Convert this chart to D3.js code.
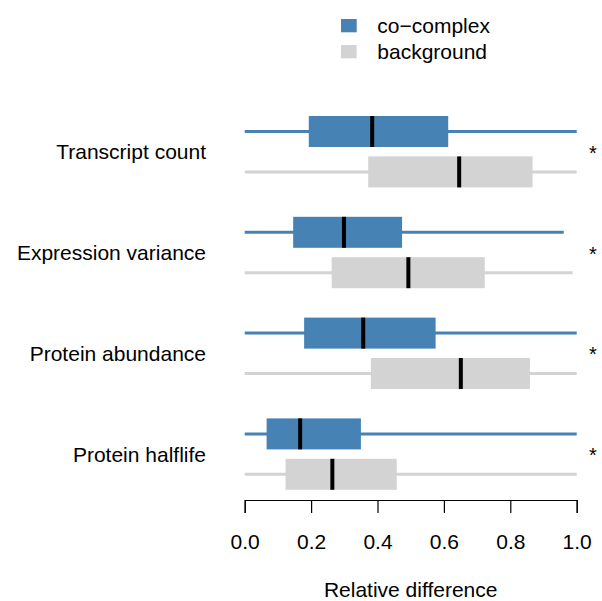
<!DOCTYPE html>
<html>
<head>
<meta charset="utf-8">
<script src="https://cdn.jsdelivr.net/npm/d3@7"></script>
<style>
  body { margin: 0; background: #fff; }
  text { font-family: "Liberation Sans", Arial, Helvetica, sans-serif; }
</style>
</head>
<body>
<div id="main"></div>
<script>
// data
var categories = ["Transcript count", "Expression variance", "Protein abundance", "Protein halflife"];
var series = ["co\u2212complex", "background"];
var seriesColors = ["#4682B4", "#D3D3D3"];

var coMin    = [0, 0, 0, 0];
var coQ1     = [0.193, 0.146, 0.179, 0.066];
var coMedian = [0.384, 0.299, 0.357, 0.167];
var coQ3     = [0.613, 0.474, 0.575, 0.350];
var coMax    = [1.0, 0.961, 1.0, 1.0];

var bgMin    = [0, 0, 0, 0];
var bgQ1     = [0.372, 0.262, 0.380, 0.123];
var bgMedian = [0.646, 0.493, 0.651, 0.264];
var bgQ3     = [0.867, 0.723, 0.859, 0.458];
var bgMax    = [1.0, 0.988, 1.0, 1.0];

var signif = ["*", "*", "*", "*"];
var xTicks = [0, 0.2, 0.4, 0.6, 0.8, 1.0];
var xTitle = "Relative difference";

var ctx = {
    w: 602,
    h: 601,
    left: 244.7,
    right: 576.7,
    top: 101.3,
    bottom: 504.5,
    axisY: 500,
    boxH: 31,
    offset: 20.2,
    fontSize: 21,
};

var createChart = function(svg){
    var x = d3.scaleLinear().domain([0, 1]).range([ctx.left, ctx.right]);
    var y = d3.scaleBand().domain(categories).range([ctx.top, ctx.bottom]);
    var sub = d3.scalePoint().domain(series).range([-ctx.offset, ctx.offset]);

    // build one row per box
    var boxes = [];
    categories.forEach(function(c, i){
        boxes.push({cat: c, s: series[0], color: seriesColors[0],
                    min: coMin[i], q1: coQ1[i], med: coMedian[i], q3: coQ3[i], max: coMax[i]});
        boxes.push({cat: c, s: series[1], color: seriesColors[1],
                    min: bgMin[i], q1: bgQ1[i], med: bgMedian[i], q3: bgQ3[i], max: bgMax[i]});
    });
    var cy = function(d){ return y(d.cat) + y.bandwidth() / 2 + sub(d.s); };

    var g = svg.selectAll("g.box")
               .data(boxes)
               .enter().append("g")
               .classed("box", true);

    // whiskers (no staples)
    g.append("line")
     .attr("x1", function(d){ return x(d.min); })
     .attr("x2", function(d){ return x(d.max); })
     .attr("y1", cy)
     .attr("y2", cy)
     .style("stroke", function(d){ return d.color; })
     .style("stroke-width", 3);

    g.append("rect")
     .attr("x", function(d){ return x(d.q1); })
     .attr("y", function(d){ return cy(d) - ctx.boxH / 2; })
     .attr("width", function(d){ return x(d.q3) - x(d.q1); })
     .attr("height", ctx.boxH)
     .style("fill", function(d){ return d.color; });

    // median
    g.append("line")
     .attr("x1", function(d){ return x(d.med); })
     .attr("x2", function(d){ return x(d.med); })
     .attr("y1", function(d){ return cy(d) - ctx.boxH / 2; })
     .attr("y2", function(d){ return cy(d) + ctx.boxH / 2; })
     .style("stroke", "#000")
     .style("stroke-width", 4);

    // category labels
    svg.selectAll("text.cat")
       .data(categories)
       .enter().append("text")
       .classed("cat", true)
       .attr("x", 206)
       .attr("y", function(d){ return y(d) + y.bandwidth() / 2 + 7.5; })
       .attr("text-anchor", "end")
       .style("font-size", ctx.fontSize + "px")
       .text(function(d){ return d; });

    // significance stars
    svg.selectAll("text.star")
       .data(signif)
       .enter().append("text")
       .classed("star", true)
       .attr("x", 593)
       .attr("y", function(d, i){ return y(categories[i]) + y.bandwidth() / 2 + 8; })
       .attr("text-anchor", "middle")
       .style("font-size", "20px")
       .text(function(d){ return d; });

    // x axis, R style
    var axis = d3.axisBottom(x)
                 .tickValues(xTicks)
                 .tickFormat(d3.format(".1f"))
                 .tickSize(13)
                 .tickSizeOuter(13)
                 .tickPadding(21);
    var ax = svg.append("g")
                .attr("transform", "translate(0," + ctx.axisY + ")")
                .call(axis);
    ax.selectAll("path, line").style("stroke", "#000").style("stroke-width", 1.2);
    ax.selectAll("text")
      .style("font-size", ctx.fontSize + "px")
      .style("font-family", "'Liberation Sans', Arial, sans-serif")
      .style("fill", "#000");

    svg.append("text")
       .attr("x", (ctx.left + ctx.right) / 2)
       .attr("y", 597.3)
       .attr("text-anchor", "middle")
       .style("font-size", ctx.fontSize + "px")
       .text(xTitle);

    // legend
    var leg = svg.selectAll("g.leg")
                 .data(series)
                 .enter().append("g")
                 .classed("leg", true)
                 .attr("transform", function(d, i){ return "translate(341," + (19 + i * 26) + ")"; });
    leg.append("rect")
       .attr("width", 15.7)
       .attr("height", 13.3)
       .style("fill", function(d, i){ return seriesColors[i]; });
    leg.append("text")
       .attr("x", 36.3)
       .attr("y", 13.5)
       .style("font-size", ctx.fontSize + "px")
       .text(function(d){ return d; });
};

var createViz = function(){
    var svgEl = d3.select("#main").append("svg");
    svgEl.attr("width", ctx.w);
    svgEl.attr("height", ctx.h);
    createChart(svgEl);
};

createViz();
</script>
</body>
</html>
